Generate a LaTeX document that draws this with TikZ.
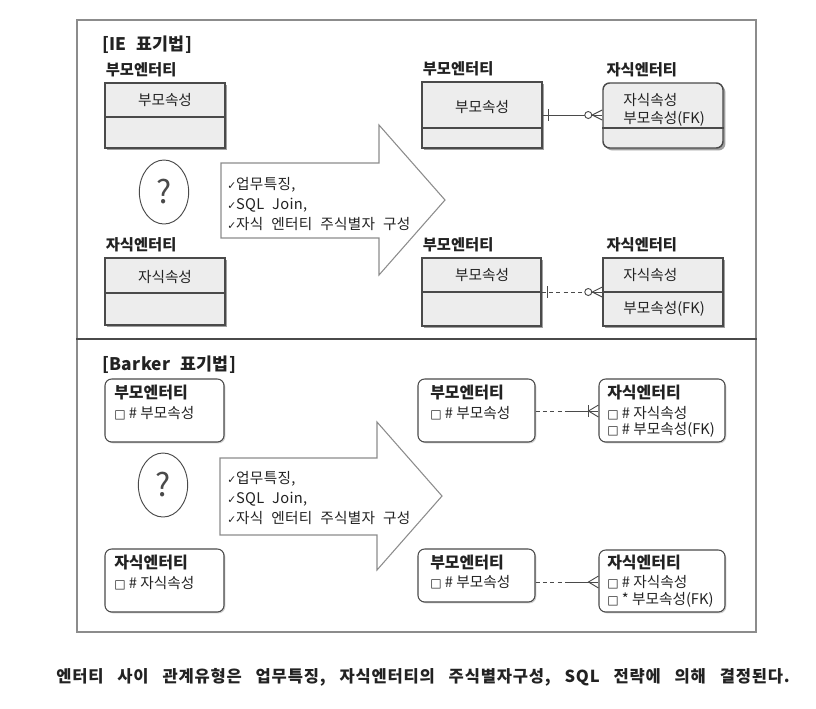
\documentclass[tikz,border=0pt]{standalone}
\usepackage{fontspec}
\setmainfont{Noto Sans CJK KR}
\newfontfamily\symfont{DejaVu Sans}
\newfontfamily\widefont{Noto Sans CJK KR}[LetterSpace=2,WordSpace=2.2]
\newfontfamily\capfont{Noto Sans CJK KR}[LetterSpace=5,WordSpace=3]
\usepackage{tikz}
\usetikzlibrary{positioning,calc,fit,shapes.geometric,shadows}
\definecolor{clInk}{HTML}{222222}
\definecolor{clEdge}{HTML}{4A4A4A}
\definecolor{clFrame}{HTML}{8C8C8C}
\definecolor{clFill}{HTML}{EDEDED}
\definecolor{clShade}{HTML}{A0A0A0}
\definecolor{clSoft}{HTML}{D0D0D0}
\newcommand{\chk}{{\symfont\fontsize{8}{8}\selectfont ✓}}
\newcommand{\sq}{{\symfont\fontsize{9}{9}\selectfont □}}
\tikzset{
  ieent/.style={rectangle, draw=clEdge, line width=1.1pt, fill=clFill, inner sep=0pt,
                drop shadow={shadow xshift=1.8pt, shadow yshift=-1.8pt, fill=clShade, opacity=1}},
  iechild/.style={ieent, rounded corners=5pt},
  bkent/.style={rectangle, rounded corners=5pt, draw=clEdge, line width=0.8pt, fill=white, inner sep=0pt,
                drop shadow={shadow xshift=1pt, shadow yshift=-1pt, fill=clSoft, opacity=1}},
  divline/.style={draw=clEdge, line width=0.9pt},
  elabel/.style={font=\fontsize{11.5}{13}\selectfont\bfseries, text=clInk, inner sep=1pt},
  attr/.style={font=\fontsize{11}{13}\selectfont, text=clInk, inner sep=0pt},
  bkname/.style={font=\fontsize{12}{14}\selectfont\bfseries, text=clInk, inner sep=0pt, anchor=west},
  bkattr/.style={font=\fontsize{11}{13}\selectfont, text=clInk, inner sep=0pt, anchor=west},
  notation/.style={font=\widefont\fontsize{13}{15}\selectfont\bfseries, text=clInk, anchor=west, inner sep=0pt},
  qmark/.style={ellipse, draw=clEdge, line width=0.7pt, fill=white, text=clEdge,
                font=\fontsize{24}{26}\selectfont, inner sep=0pt,
                minimum width=37pt, minimum height=48pt},
  bigarrow/.style={draw=clFrame, line width=0.8pt, fill=white, line join=miter},
  why/.style={font=\widefont\fontsize{11}{15}\selectfont, text=clInk, align=left, anchor=west, inner sep=0pt},
  rel/.style={draw=clEdge, line width=0.7pt},
  optrel/.style={rel, dash pattern=on 3pt off 2.5pt},
  caption/.style={font=\capfont\fontsize{12.4}{14}\selectfont\bfseries, text=clInk, inner sep=0pt},
}

\begin{document}
\begin{tikzpicture}[x=0.75pt, y=0.75pt]
  \useasboundingbox (0,0) rectangle (816,-708);
  % frame and section line
  \node[draw=clFrame, line width=0.9pt, inner sep=0pt, fit={(77,-20) (756,-632)}] (frame) {};
  \draw[draw=clEdge, line width=1.2pt] (frame.west |- 0,-339) -- (frame.east |- 0,-339);

  % ---- IE notation
  \node[notation] (ieTitle) at (102,-45) {[IE 표기법]};

  \node[ieent, fit={(105,-83) (225,-148)}] (pA) {};
  \node[elabel, above right=3pt and 0pt of pA.north west] (pAl) {부모엔터티};
  \draw[divline] (pA.west |- 0,-117) -- (pA.east |- 0,-117);
  \node[attr] (pAk) at (165,-100) {부모속성};

  \node[qmark] (qIE) at (164,-192) {?};

  \node[ieent, fit={(105,-258) (225,-325)}] (cA) {};
  \node[elabel, above right=3pt and 0pt of cA.north west] (cAl) {자식엔터티};
  \draw[divline] (cA.west |- 0,-293) -- (cA.east |- 0,-293);
  \node[attr] (cAk) at (165,-277) {자식속성};

  \draw[bigarrow] (221,-163) -- (379,-163) -- (379,-125) -- (445,-200)
        -- (379,-275) -- (379,-238) -- (221,-238) -- cycle;
  \node[why] (ieWhy) at (227,-204) {\chk 업무특징,\\\chk SQL Join,\\\chk 자식 엔터티 주식별자 구성};

  \node[ieent, fit={(422,-82) (542,-148)}] (pB) {};
  \node[elabel, above right=3pt and 0pt of pB.north west] (pBl) {부모엔터티};
  \draw[divline] (pB.west |- 0,-128) -- (pB.east |- 0,-128);
  \node[attr] (pBk) at (482,-107) {부모속성};

  \node[iechild, fit={(603,-83) (723,-148)}] (cB) {};
  \node[elabel, above right=3pt and 2pt of cB.north west] (cBl) {자식엔터티};
  \draw[divline] (cB.west |- 0,-128) -- (cB.east |- 0,-128);
  \node[attr, anchor=west] (cBk) at (623,-100) {자식속성};
  \node[attr, anchor=west] (cBf) at (623,-119) {부모속성(FK)};

  \coordinate (r1p) at (pB.east |- 0,-115);
  \coordinate (r1c) at (cB.west |- 0,-115);
  \draw[rel] (r1p) -- (r1c);
  \draw[rel] ($(r1p)+(6,6)$) -- ($(r1p)+(6,-6)$);
  \draw[rel, fill=white] ($(r1c)+(-14,0)$) circle [radius=3.5];
  \draw[rel] ($(r1c)+(0,5)$) -- ($(r1c)+(-10,0)$) -- ($(r1c)+(0,-5)$);

  \node[ieent, fit={(422,-258) (541,-326)}] (pC) {};
  \node[elabel, above right=3pt and 0pt of pC.north west] (pCl) {부모엔터티};
  \draw[divline] (pC.west |- 0,-292) -- (pC.east |- 0,-292);
  \node[attr] (pCk) at (482,-275) {부모속성};

  \node[ieent, fit={(603,-258) (723,-326)}] (cC) {};
  \node[elabel, above right=3pt and 2pt of cC.north west] (cCl) {자식엔터티};
  \draw[divline] (cC.west |- 0,-292) -- (cC.east |- 0,-292);
  \node[attr, anchor=west] (cCk) at (623,-275) {자식속성};
  \node[attr, anchor=west] (cCf) at (623,-309) {부모속성(FK)};

  \coordinate (r2p) at (pC.east |- 0,-292);
  \coordinate (r2c) at (cC.west |- 0,-292);
  \draw[optrel] (r2p) -- ($(r2c)+(-17,0)$);
  \draw[rel] ($(r2c)+(-17,0)$) -- (r2c);
  \draw[rel] ($(r2p)+(6,6)$) -- ($(r2p)+(6,-6)$);
  \draw[rel, fill=white] ($(r2c)+(-14,0)$) circle [radius=3.5];
  \draw[rel] ($(r2c)+(0,5)$) -- ($(r2c)+(-10,0)$) -- ($(r2c)+(0,-5)$);

  % ---- Barker notation
  \node[notation] (bkTitle) at (102,-365) {[Barker 표기법]};

  \node[bkent, fit={(105,-379) (224,-442)}] (pD) {};
  \node[bkname] (pDn) at (114,-393) {부모엔터티};
  \node[bkattr] (pDk) at (114,-413) {\sq\ \# 부모속성};

  \node[qmark] (qBK) at (163,-485) {?};

  \node[bkent, fit={(105,-549) (224,-612)}] (cD) {};
  \node[bkname] (cDn) at (114,-563) {자식엔터티};
  \node[bkattr] (cDk) at (114,-583) {\sq\ \# 자식속성};

  \draw[bigarrow] (220,-458) -- (377,-458) -- (377,-422) -- (442,-496)
        -- (377,-570) -- (377,-535) -- (220,-535) -- cycle;
  \node[why] (bkWhy) at (227,-498) {\chk 업무특징,\\\chk SQL Join,\\\chk 자식 엔터티 주식별자 구성};

  \node[bkent, fit={(418,-379) (535,-442)}] (pE) {};
  \node[bkname] (pEn) at (430,-393) {부모엔터티};
  \node[bkattr] (pEk) at (430,-413) {\sq\ \# 부모속성};

  \node[bkent, fit={(599,-379) (725,-442)}] (cE) {};
  \node[bkname] (cEn) at (607,-393) {자식엔터티};
  \node[bkattr] (cEk) at (607,-413) {\sq\ \# 자식속성};
  \node[bkattr] (cEf) at (607,-430) {\sq\ \# 부모속성(FK)};

  \coordinate (r3p) at (pE.east |- 0,-411);
  \coordinate (r3c) at (cE.west |- 0,-411);
  \draw[optrel] (r3p) -- ($(r3p)!0.5!(r3c)$);
  \draw[rel] ($(r3p)!0.5!(r3c)$) -- (r3c);
  \draw[rel] ($(r3c)+(-10,6)$) -- ($(r3c)+(-10,-6)$);
  \draw[rel] ($(r3c)+(0,6)$) -- ($(r3c)+(-10,0)$) -- ($(r3c)+(0,-6)$);

  \node[bkent, fit={(418,-549) (535,-602)}] (pF) {};
  \node[bkname] (pFn) at (430,-562) {부모엔터티};
  \node[bkattr] (pFk) at (430,-582) {\sq\ \# 부모속성};

  \node[bkent, fit={(599,-550) (725,-612)}] (cF) {};
  \node[bkname] (cFn) at (607,-562) {자식엔터티};
  \node[bkattr] (cFk) at (607,-582) {\sq\ \# 자식속성};
  \node[bkattr] (cFf) at (607,-600) {\sq\ * 부모속성(FK)};

  \coordinate (r4p) at (pF.east |- 0,-582);
  \coordinate (r4c) at (cF.west |- 0,-582);
  \draw[optrel] (r4p) -- ($(r4p)!0.5!(r4c)$);
  \draw[rel] ($(r4p)!0.5!(r4c)$) -- (r4c);
  \draw[rel] ($(r4c)+(0,6)$) -- ($(r4c)+(-10,0)$) -- ($(r4c)+(0,-6)$);

  % ---- caption
  \node[caption] (cap) at (423,-677) {엔터티 사이 관계유형은 업무특징, 자식엔터티의 주식별자구성, SQL 전략에 의해 결정된다.};
\end{tikzpicture}
\end{document}
